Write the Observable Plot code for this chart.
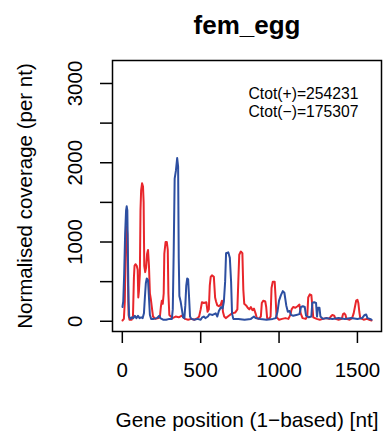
<!DOCTYPE html>
<html><head><meta charset="utf-8">
<script src="https://cdn.jsdelivr.net/npm/d3@7"></script>
<script src="https://cdn.jsdelivr.net/npm/@observablehq/plot@0.6"></script>
<style>html,body{margin:0;padding:0;background:#fff}</style>
</head><body><div id="chart"></div>
<script>
const chartTitle = "fem_egg";
const xLabel = "Gene position (1\u2212based) [nt]";
const yLabel = "Normalised coverage (per nt)";
const ctotPlus = 254231;
const ctotMinus = 175307;

const xTicks = [0, 500, 1000, 1500];
const yTickMarks = [0, 500, 1000, 1500, 2000, 2500, 3000];
const yTickLabels = [0, 1000, 2000, 3000];

// plus strand (red)
const redPos = [1,10,16,20,24,28,32,36,40,46,60,68,74,78,84,92,98,102,106,112,116,120,126,132,136,140,146,152,158,164,170,176,182,190,196,210,230,240,246,252,258,264,268,276,284,290,294,300,320,340,360,380,400,420,440,460,480,490,500,508,520,536,544,552,558,564,572,584,592,598,606,616,628,636,642,650,660,680,700,720,734,740,746,756,766,772,778,790,800,810,820,830,840,850,858,870,884,890,900,912,918,924,936,946,952,960,972,978,984,1000,1020,1040,1060,1072,1080,1090,1104,1118,1130,1138,1150,1170,1180,1186,1196,1206,1212,1218,1240,1260,1280,1300,1320,1330,1340,1352,1360,1380,1400,1408,1416,1424,1430,1450,1466,1476,1484,1492,1500,1506,1512,1518,1540,1560,1580,1590];
const redCov = [10,30,250,800,1150,1200,1100,500,80,20,20,60,550,700,720,700,650,300,380,600,1400,1650,1740,1700,1500,700,620,680,850,900,700,350,280,150,60,30,40,60,180,260,220,350,850,1000,1000,900,350,80,40,60,50,70,30,20,30,20,40,60,150,240,230,240,120,150,450,560,580,560,300,250,200,190,210,260,120,60,40,70,100,110,150,500,840,880,860,400,220,200,170,150,180,140,160,100,40,30,60,230,260,250,180,40,30,60,420,500,500,300,50,20,30,40,30,80,150,180,170,190,210,100,40,30,60,300,340,330,200,50,30,20,30,40,30,60,80,70,30,20,30,90,100,80,30,20,40,100,180,260,270,230,120,40,20,30,15,10];

// minus strand (blue)
const bluePos = [1,6,12,18,24,28,32,36,40,44,52,62,70,80,90,100,110,120,130,138,144,150,156,164,170,176,184,200,220,236,242,260,280,300,316,322,328,334,342,350,356,360,364,372,380,388,396,402,408,414,420,426,432,440,460,480,500,510,520,530,546,556,576,596,606,616,630,640,648,656,662,676,686,694,700,708,740,780,820,840,850,880,920,960,980,990,1000,1012,1024,1034,1046,1056,1068,1076,1090,1110,1130,1140,1152,1164,1172,1190,1206,1212,1224,1236,1242,1248,1258,1264,1280,1300,1340,1380,1420,1460,1500,1530,1546,1556,1564,1580,1590];
const blueCov = [180,250,600,1100,1400,1450,1400,800,250,60,30,50,40,70,40,70,40,50,40,100,300,480,540,520,300,80,30,30,40,70,40,20,20,30,30,150,900,1800,1900,2060,1950,800,320,250,150,50,40,200,450,540,530,300,60,30,20,30,20,50,60,40,60,90,80,100,60,130,180,160,250,500,860,870,800,500,100,30,30,20,30,60,40,30,20,30,40,120,260,330,380,360,200,120,130,80,70,80,90,180,190,180,70,50,60,230,240,230,60,170,170,60,30,40,30,40,30,40,30,40,80,85,40,30,20];

const redColor = "#e8262b";
const blueColor = "#2d4fa1";

const redData = redPos.map((x, i) => ({x, y: redCov[i]}));
const blueData = bluePos.map((x, i) => ({x, y: blueCov[i]}));

const font = "'Liberation Sans', Arial, Helvetica, sans-serif";

const chart = Plot.plot({
  width: 389,
  height: 433,
  marginLeft: 112,
  marginRight: 8,
  marginTop: 60,
  marginBottom: 102,
  style: {fontFamily: font, background: "#fff", color: "#000"},
  x: {domain: [-62.6, 1653.6]},
  y: {domain: [-129, 3290]},
  marks: [
    Plot.line(redData, {x: "x", y: "y", stroke: redColor, strokeWidth: 2}),
    Plot.line(blueData, {x: "x", y: "y", stroke: blueColor, strokeWidth: 2}),
    Plot.frame({stroke: "#000", strokeWidth: 1.5}),
    Plot.axisX({ticks: xTicks, tickSize: 12, tickPadding: 19, fontSize: 20.5, label: null, strokeWidth: 1.5, tickFormat: d => String(d)}),
    Plot.axisY({ticks: yTickMarks, tickSize: 12, label: null, strokeWidth: 1.5, tickFormat: () => ""}),
    Plot.text(yTickLabels, {y: d => d, text: d => String(d), frameAnchor: "left", dx: -37, rotate: -90, fontSize: 20.5, textAnchor: "middle", lineAnchor: "middle", fill: "#000"}),
    Plot.text([yLabel], {text: d => d, frameAnchor: "left", dx: -86.6, rotate: -90, fontSize: 20.5, textAnchor: "middle", lineAnchor: "middle", fill: "#000"}),
    Plot.text([xLabel], {text: d => d, frameAnchor: "bottom", dy: 88.5, fontSize: 20.8, textAnchor: "middle", lineAnchor: "middle", fill: "#000"}),
    Plot.text([chartTitle], {text: d => d, frameAnchor: "top", dy: -27, fontSize: 26, fontWeight: "bold", textAnchor: "middle", lineAnchor: "bottom", fill: "#000"}),
    Plot.text([`Ctot(+)=${ctotPlus}\nCtot(\u2212)=${ctotMinus}`], {text: d => d, frameAnchor: "top-left", dx: 136, dy: 25.6, fontSize: 15.7, lineHeight: 1.166, textAnchor: "start", lineAnchor: "top", fill: "#000"})
  ]
});
document.getElementById("chart").appendChild(chart);
</script>
</body></html>
